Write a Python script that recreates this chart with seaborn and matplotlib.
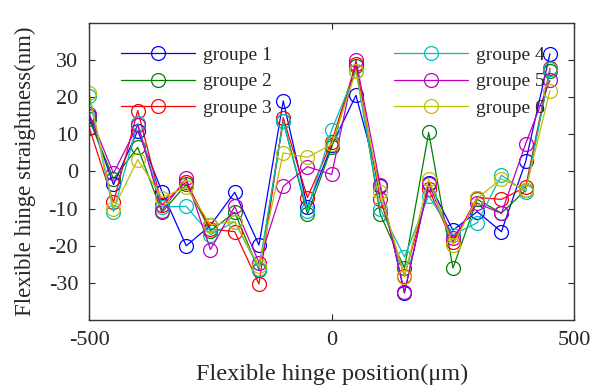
import matplotlib
matplotlib.use("Agg")
import matplotlib.pyplot as plt
import numpy as np
import pandas as pd
import seaborn as sns

# hinge positions (um)
positions = [-500, -450, -400, -350, -300, -250, -200, -150, -100, -50,
             0, 50, 100, 150, 200, 250, 300, 350, 400, 450]

groupe1 = [15, -3.5, 11, -5.4, -20, -14.5, -5.6, -19.8, 19, -9.5,
           7, 20.5, -4, -32.7, -3, -15.8, -10.8, -16.2, 2.7, 31.7]
groupe2 = [14, -2, 6.5, -11, -3.5, -16, -11, -26.5, 13.5, -11.5,
           6.5, 28.5, -11.5, -26, 10.5, -26, -7.5, -11.2, -5, 27]
groupe3 = [11.8, -8.3, 16.4, -9, -2.8, -15.5, -16.2, -30.3, 14.5, -7,
           8, 29, -7.5, -28, -4.8, -19, -7, -7.5, -4.2, 27.8]
groupe4 = [20.2, -10.8, 13, -9.5, -9.4, -17, -13.5, -26.2, 13.5, -10.5,
           11.2, 27, -10, -23, -6.5, -17, -13.8, -1, -5.5, 27.5]
groupe5 = [15.5, -0.5, 12.5, -10.5, -1.8, -21, -9.4, -24.5, -4, 1.3,
           -0.8, 30, -3.7, -32.5, -3.5, -18, -8.5, -11.3, 7.5, 24.5]
groupe6 = [21, -10, 3.2, -7, -4.2, -14.3, -13.5, -25.5, 5, 3.8,
           7.3, 27, -5.5, -28.3, -2, -19.8, -7.2, -2, -5, 21.8]

group_names = ["groupe 1", "groupe 2", "groupe 3", "groupe 4", "groupe 5", "groupe 6"]
group_values = [groupe1, groupe2, groupe3, groupe4, groupe5, groupe6]
colors = ["b", "g", "r", "c", "m", "y"]

x_ticks = [-500, 0, 500]
y_ticks = [-30, -20, -10, 0, 10, 20, 30]

rows = []
for name, vals in zip(group_names, group_values):
    for p, v in zip(positions, vals):
        rows.append({"position": p, "straightness": v, "group": name})
df = pd.DataFrame(rows)

sns.set_style("ticks")
plt.rcParams["font.family"] = ["Liberation Serif", "DejaVu Serif"]
plt.rcParams["axes.unicode_minus"] = False

fig = plt.figure(figsize=(5.95, 3.88), dpi=100)
ax = fig.add_axes([0.15, 0.175, 0.815, 0.766])

for name, col in zip(group_names, colors):
    sub = df[df.group == name]
    sns.lineplot(data=sub, x="position", y="straightness", ax=ax,
                 color=col, marker="o", markersize=10, markerfacecolor="none",
                 markeredgecolor=col, markeredgewidth=0.9, linewidth=0.9,
                 label=name)

ax.set_xlim(-500, 500)
ax.set_ylim(-40, 40)
ax.set_xticks(x_ticks)
ax.set_yticks(y_ticks)
ax.tick_params(direction="in", top=True, right=True, labelsize=16, length=4, width=0.8, pad=8)
for s in ax.spines.values():
    s.set_linewidth(1.0)
    s.set_color("#333333")

ax.set_xlabel("Flexible hinge position(\u03bcm)", fontsize=17.5, labelpad=10)
ax.set_ylabel("Flexible hinge straightness(nm)", fontsize=16.5, labelpad=9)

ax.legend(loc="upper left", bbox_to_anchor=(0.03, 0.98), ncol=2, frameon=False,
          fontsize=14, handlelength=3.8, columnspacing=6.3, labelspacing=0.45,
          handletextpad=0.4)

fig.savefig("out.png", dpi=100)
